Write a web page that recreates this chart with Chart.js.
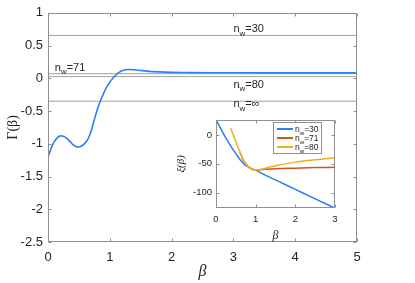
<!DOCTYPE html>
<html lang="en">
  <head>
    <meta charset="UTF-8" />
    <title>Gamma(beta)</title>
    <style>
      html, body { margin: 0; padding: 0; background: #fff; }
      #wrap { position: relative; width: 415px; height: 283px; }
      #mainChart { position: absolute; left: 0; top: 0; }
      #insetChart { position: absolute; left: 165px; top: 110px; }
    </style>
  </head>
  <body>
    <div id="wrap">
      <canvas id="mainChart" width="415" height="283"></canvas>
      <canvas id="insetChart" width="185" height="135"></canvas>
    </div>

    <script src="https://cdn.jsdelivr.net/npm/chart.js@4.4.0/dist/chart.umd.min.js"></script>
    <script>
      // Main curve Gamma(beta)
      const gammaBeta = [0, 0.05, 0.1, 0.15, 0.2, 0.25, 0.3, 0.35, 0.4, 0.45, 0.5, 0.55, 0.6, 0.65, 0.7, 0.75, 0.8, 0.85, 0.9, 0.95, 1.0, 1.05, 1.1, 1.15, 1.2, 1.25, 1.3, 1.4, 1.5, 1.6, 1.8, 2.0, 2.3, 2.6, 3, 3.5, 4, 4.5, 5];
      const gammaVals = [-1.21, -1.07, -0.97, -0.91, -0.88, -0.885, -0.915, -0.96, -1.01, -1.04, -1.05, -1.03, -0.99, -0.92, -0.8, -0.63, -0.47, -0.34, -0.23, -0.13, -0.06, 0.0, 0.05, 0.09, 0.115, 0.13, 0.135, 0.13, 0.12, 0.11, 0.098, 0.091, 0.087, 0.085, 0.084, 0.083, 0.083, 0.083, 0.083];

      // horizontal reference levels and their n_w labels
      const refLevels = [0.655, 0.07, 0.025, -0.35];
      const refNames = ["30", "71", "80", "\u221e"];

      // inset xi(beta)
      const xi30Beta = [0, 0.1, 0.2, 0.3, 0.4, 0.5, 0.6, 0.7, 0.8, 0.9, 1.0, 1.25, 1.5, 2, 2.5, 3];
      const xi30 = [27, 14, 1, -11, -22, -32, -42, -50, -55, -58.5, -61.5, -70, -78, -94.5, -111, -127];
      const xi71Beta = [0.6, 0.7, 0.8, 0.9, 1.0, 1.1, 1.25, 1.5, 2, 2.5, 3];
      const xi71 = [-29, -45, -54, -59, -61, -60.5, -59.5, -58.5, -57.5, -56.5, -56];
      const xi80Beta = [0.37, 0.45, 0.5, 0.6, 0.7, 0.8, 0.9, 1.0, 1.1, 1.25, 1.5, 2, 2.5, 3];
      const xi80 = [12, -2, -11, -29, -45, -54, -59, -61, -60, -57.5, -53.5, -47, -43, -39.5];

      // tick labels
      const mainXTicks = [0, 1, 2, 3, 4, 5];
      const mainYTicks = [1, 0.5, 0, -0.5, -1, -1.5, -2, -2.5];
      const insetXTicks = [0, 1, 2, 3];
      const insetYTicks = [0, -50, -100];

      const toPts = (xs, ys) => xs.map((x, i) => ({ x: x, y: ys[i] }));
      const setTicks = (vals) => (scale) => {
        scale.ticks = vals.map((v) => ({ value: v }));
      };

      const axisColor = "#8f8f8f";
      const textColor = "#262626";
      const blue = "#2d7ff9";
      const red = "#d95319";
      const yellow = "#edb120";

      // box with inward ticks on all four sides (matlab style)
      const boxPlugin = {
        id: "box",
        afterDatasetsDraw(chart, args, opts) {
          const { ctx, chartArea: a } = chart;
          const x = chart.scales.x;
          const y = chart.scales.y;
          const L = Math.round(a.left) + 0.5;
          const R = Math.round(a.right) - 0.5;
          const T = Math.round(a.top) + 0.5;
          const B = Math.round(a.bottom) - 0.5;
          ctx.save();
          ctx.strokeStyle = axisColor;
          ctx.lineWidth = 1;
          ctx.strokeRect(L, T, R - L, B - T);
          ctx.beginPath();
          x.ticks.forEach((t) => {
            const px = Math.round(x.getPixelForValue(t.value)) + 0.5;
            ctx.moveTo(px, B);
            ctx.lineTo(px, B - opts.len);
            ctx.moveTo(px, T);
            ctx.lineTo(px, T + opts.len);
          });
          y.ticks.forEach((t) => {
            const py = Math.round(y.getPixelForValue(t.value)) + 0.5;
            ctx.moveTo(L, py);
            ctx.lineTo(L + opts.len, py);
            ctx.moveTo(R, py);
            ctx.lineTo(R - opts.len, py);
          });
          ctx.stroke();
          ctx.restore();
        },
      };

      // "n_w=.." text with a subscript w
      function drawNw(ctx, x, y, rest, size) {
        ctx.font = size + "px 'Liberation Sans', Arial, sans-serif";
        ctx.textBaseline = "alphabetic";
        ctx.textAlign = "left";
        ctx.fillText("n", x, y);
        let w = ctx.measureText("n").width;
        ctx.font = size * 0.72 + "px 'Liberation Sans', Arial, sans-serif";
        ctx.fillText("w", x + w, y + size * 0.3);
        w += ctx.measureText("w").width;
        ctx.font = size + "px 'Liberation Sans', Arial, sans-serif";
        ctx.fillText(rest, x + w, y);
      }

      const refLabelPlugin = {
        id: "refLabels",
        afterDatasetsDraw(chart) {
          const { ctx } = chart;
          const x = chart.scales.x;
          const y = chart.scales.y;
          // label anchors in data coordinates (beta, Gamma)
          const anchors = [
            [3.0, 0.7],
            [0.11, 0.115],
            [3.0, -0.145],
            [3.0, -0.445],
          ];
          ctx.save();
          ctx.fillStyle = textColor;
          anchors.forEach((p, i) => {
            drawNw(ctx, x.getPixelForValue(p[0]), y.getPixelForValue(p[1]), "=" + refNames[i], 11);
          });
          ctx.restore();
        },
      };

      const insetLegendPlugin = {
        id: "insetLegend",
        afterDraw(chart) {
          const { ctx } = chart;
          const bx = 108, by = 12, bw = 48, bh = 31;
          ctx.save();
          ctx.fillStyle = "#fff";
          ctx.fillRect(bx, by, bw, bh);
          ctx.strokeStyle = axisColor;
          ctx.lineWidth = 1;
          ctx.strokeRect(bx + 0.5, by + 0.5, bw, bh);
          chart.data.datasets.forEach((ds, i) => {
            const cy = by + 7 + i * 9;
            ctx.strokeStyle = ds.borderColor;
            ctx.lineWidth = 2;
            ctx.beginPath();
            ctx.moveTo(bx + 4, cy);
            ctx.lineTo(bx + 20, cy);
            ctx.stroke();
            ctx.fillStyle = textColor;
            drawNw(ctx, bx + 22, cy + 3, ds.label, 8.5);
          });
          ctx.restore();
        },
      };

      const whiteBg = {
        id: "whiteBg",
        beforeDatasetsDraw(chart) {
          const { ctx, chartArea: a } = chart;
          ctx.save();
          ctx.fillStyle = "#fff";
          ctx.fillRect(a.left, a.top, a.right - a.left, a.bottom - a.top);
          ctx.restore();
        },
      };

      const tickFont = { family: "'Liberation Sans', Arial, sans-serif", size: 13 };

      const mainDatasets = [
        {
          data: toPts(gammaBeta, gammaVals),
          borderColor: blue,
          borderWidth: 1.6,
          cubicInterpolationMode: "monotone",
          pointRadius: 0,
          order: 0,
        },
      ].concat(
        refLevels.map((v) => ({
          data: toPts([0, 5], [v, v]),
          borderColor: "#a0a0a0",
          borderWidth: 1,
          pointRadius: 0,
          order: 1,
        }))
      );

      new Chart(document.getElementById("mainChart"), {
        type: "line",
        data: { datasets: mainDatasets },
        options: {
          responsive: false,
          animation: false,
          layout: { padding: { left: 0, top: 7, right: 58, bottom: 0 } },
          plugins: {
            legend: { display: false },
            tooltip: { enabled: false },
            box: { len: 3 },
          },
          scales: {
            x: {
              type: "linear",
              min: 0,
              max: 5,
              afterBuildTicks: setTicks(mainXTicks),
              afterFit: (s) => { s.height = 41; },
              grid: { display: false, drawTicks: false },
              border: { display: false },
              ticks: { color: textColor, font: tickFont, padding: 8, maxRotation: 0 },
              title: {
                display: true,
                text: "\u03b2",
                color: textColor,
                padding: { top: 0, bottom: 2 },
                font: { family: "'Liberation Serif', serif", size: 16, style: "italic" },
              },
            },
            y: {
              min: -2.5,
              max: 1,
              afterBuildTicks: setTicks(mainYTicks),
              afterFit: (s) => { s.width = 48; },
              grid: { display: false, drawTicks: false },
              border: { display: false },
              ticks: { color: textColor, font: tickFont, padding: 5, callback: (v) => String(v) },
              title: {
                display: true,
                text: "\u0393(\u03b2)",
                color: textColor,
                padding: { top: 5, bottom: 0 },
                font: { family: "'Liberation Serif', serif", size: 14 },
              },
            },
          },
        },
        plugins: [boxPlugin, refLabelPlugin],
      });

      const insetFont = { family: "'Liberation Sans', Arial, sans-serif", size: 9.5 };

      new Chart(document.getElementById("insetChart"), {
        type: "line",
        data: {
          datasets: [
            { label: "=30", data: toPts(xi30Beta, xi30), borderColor: blue, order: 2 },
            { label: "=71", data: toPts(xi71Beta, xi71), borderColor: red, order: 1 },
            { label: "=80", data: toPts(xi80Beta, xi80), borderColor: yellow, order: 0 },
          ],
        },
        options: {
          responsive: false,
          animation: false,
          datasets: { line: { borderWidth: 1.5, pointRadius: 0, cubicInterpolationMode: "monotone" } },
          layout: { padding: { left: 0, top: 9, right: 15, bottom: 0 } },
          plugins: {
            legend: { display: false },
            tooltip: { enabled: false },
            box: { len: 3 },
          },
          scales: {
            x: {
              type: "linear",
              min: 0,
              max: 3,
              afterBuildTicks: setTicks(insetXTicks),
              afterFit: (s) => { s.height = 37; },
              grid: { display: false, drawTicks: false },
              border: { display: false },
              ticks: { color: textColor, font: insetFont, padding: 6, maxRotation: 0 },
              title: {
                display: true,
                text: "\u03b2",
                color: textColor,
                padding: { top: 0, bottom: 2 },
                font: { family: "'Liberation Serif', serif", size: 12, style: "italic" },
              },
            },
            y: {
              min: -127,
              max: 27,
              afterBuildTicks: setTicks(insetYTicks),
              afterFit: (s) => { s.width = 51; },
              grid: { display: false, drawTicks: false },
              border: { display: false },
              ticks: { color: textColor, font: insetFont, padding: 4 },
              title: {
                display: true,
                text: "\u03be(\u03b2)",
                color: textColor,
                padding: { top: 10, bottom: 0 },
                font: { family: "'Liberation Serif', serif", size: 11, style: "italic" },
              },
            },
          },
        },
        plugins: [whiteBg, boxPlugin, insetLegendPlugin],
      });
    </script>
  </body>
</html>
